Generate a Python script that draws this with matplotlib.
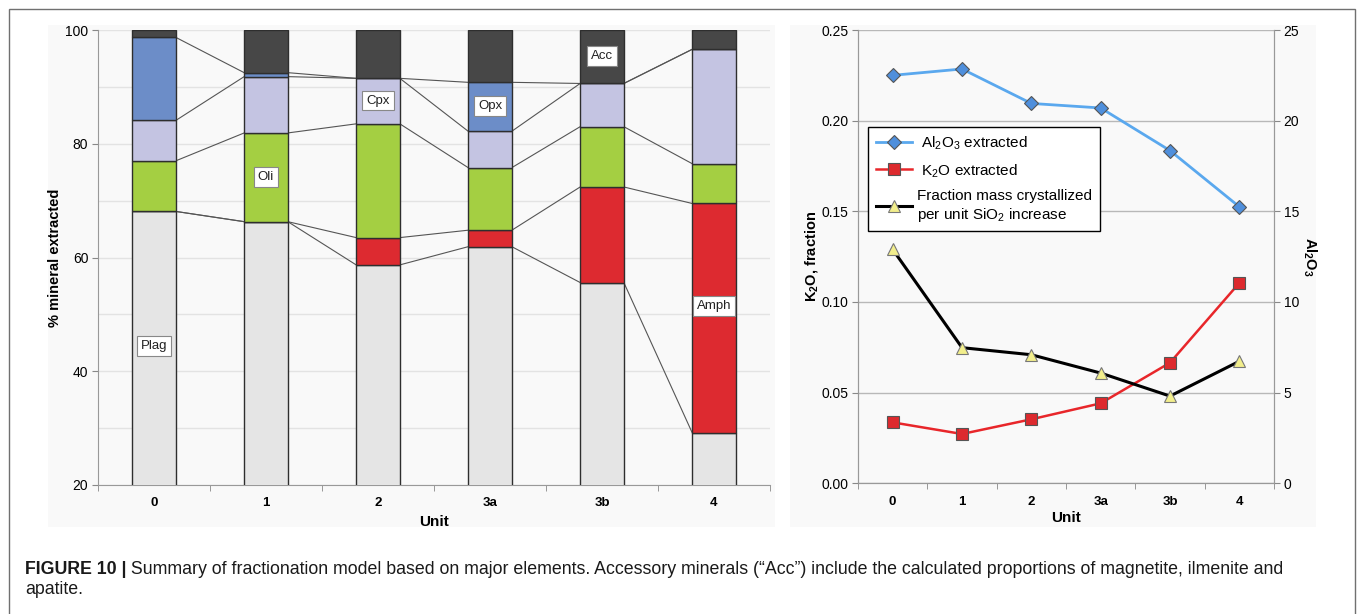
import matplotlib
matplotlib.use("Agg")
import matplotlib.pyplot as plt
from matplotlib.patches import Rectangle
import numpy as np

plt.rcParams['font.family'] = ['Liberation Sans', 'DejaVu Sans']

# ---------------- data ----------------
units = ["0", "1", "2", "3a", "3b", "4"]
minerals = ["Plag", "Amph", "Oli", "Cpx", "Opx", "Acc"]
plag = [68.1, 66.3, 58.7, 61.9, 55.6, 29.2]
amph = [0.0, 0.0, 4.8, 2.9, 16.8, 40.3]
oli = [8.9, 15.6, 20.0, 11.0, 10.6, 7.0]
cpx = [7.1, 9.9, 8.0, 6.4, 7.6, 20.1]
opx = [14.6, 0.7, 0.0, 8.6, 0.0, 0.0]
acc = [1.3, 7.5, 8.5, 9.2, 9.4, 3.4]

al2o3 = [22.5, 22.85, 20.95, 20.7, 18.35, 15.25]
k2o = [0.0336, 0.0272, 0.0353, 0.0441, 0.0665, 0.1105]
frac_cryst = [0.129, 0.0748, 0.0709, 0.0608, 0.0481, 0.0673]

# label placement (bar index, y) for mineral names
label_pos = {"Plag": (0, 44.5), "Oli": (1, 74.2), "Cpx": (2, 87.6),
             "Opx": (3, 86.7), "Acc": (4, 95.5), "Amph": (5, 51.5)}

colors = {"Plag": "#e5e5e5", "Amph": "#dd2a30", "Oli": "#a4cf42",
          "Cpx": "#c4c4e2", "Opx": "#6c8dc8", "Acc": "#474747"}

W, H = 1357, 614
fig = plt.figure(figsize=(W / 100, H / 100), dpi=100)

def px_rect(x0, y0, x1, y1):
    return [x0 / W, 1 - y1 / H, (x1 - x0) / W, (y1 - y0) / H]

# backgrounds and outer border
for (x0, y0, x1, y1) in [(48, 25, 775, 527), (790, 25, 1316, 527)]:
    r = px_rect(x0, y0, x1, y1)
    fig.patches.append(Rectangle((r[0], r[1]), r[2], r[3], transform=fig.transFigure,
                                 facecolor="#f9f9f9", edgecolor="none", zorder=-10))
fig.patches.append(Rectangle((9 / W, -0.05), (1355 - 9) / W, 1.05 - 9 / H,
                             transform=fig.transFigure, facecolor="none",
                             edgecolor="#707070", linewidth=1.0, zorder=-5))

# ---------------- left chart ----------------
ax = fig.add_axes(px_rect(98, 30, 770, 485))
ax.set_facecolor("none")
x = np.arange(len(units))
bw = 0.39
series = [plag, amph, oli, cpx, opx, acc]
bottom = np.zeros(len(units))
tops = []
for name, vals in zip(minerals, series):
    vals = np.array(vals)
    ax.bar(x, vals, bw, bottom=bottom, color=colors[name], edgecolor="#2e2e2e",
           linewidth=1.0, zorder=3)
    bottom = bottom + vals
    tops.append(bottom.copy())

# series lines connecting cumulative tops
for t in tops[:-1]:
    for i in range(len(units) - 1):
        ax.plot([x[i] + bw / 2, x[i + 1] - bw / 2], [t[i], t[i + 1]],
                color="#555555", linewidth=0.8, zorder=2)

for name, (i, yv) in label_pos.items():
    ax.text(x[i], yv, name, ha="center", va="center", fontsize=9.5, color="#222222",
            zorder=5, bbox=dict(boxstyle="square,pad=0.3", facecolor="white",
                                edgecolor="#888888", linewidth=0.8))

ax.set_xlim(-0.5, len(units) - 0.5)
ax.set_ylim(20, 100)
ax.set_yticks([20, 40, 60, 80, 100])
ax.set_yticks(np.arange(20, 101, 10), minor=True)
ax.tick_params(axis="y", which="major", length=4, color="#888888", labelsize=10,
               direction="out", pad=3)
ax.tick_params(axis="y", which="minor", length=0)
ax.grid(axis="y", which="both", color="#e3e3e3", linewidth=1.0, zorder=0)
ax.set_xticks(x)
ax.set_xticklabels(units, fontweight="bold", fontsize=9.5)
ax.set_xticks(np.arange(-0.5, len(units), 1), minor=True)
ax.tick_params(axis="x", which="major", length=0, pad=9)
ax.tick_params(axis="x", which="minor", length=4, color="#888888", direction="out")
for s in ["top", "right"]:
    ax.spines[s].set_visible(False)
for s in ["left", "bottom"]:
    ax.spines[s].set_color("#999999")
ax.set_ylabel("% mineral extracted", fontweight="bold", fontsize=10.5, labelpad=2)
ax.set_xlabel("Unit", fontweight="bold", fontsize=11, labelpad=4)

# ---------------- right chart ----------------
ax2 = fig.add_axes(px_rect(858, 30, 1274, 483.3))
ax2.set_facecolor("none")
ax3 = ax2.twinx()
ax2.set_xlim(-0.5, len(units) - 0.5)
ax2.set_ylim(0, 0.25)
ax3.set_ylim(0, 25)
ax2.set_yticks(np.arange(0, 0.2501, 0.05))
ax2.set_yticklabels([f"{v:.2f}" for v in np.arange(0, 0.2501, 0.05)])
ax3.set_yticks([0, 5, 10, 15, 20, 25])
ax2.grid(axis="y", color="#b8b8b8", linewidth=1.0, zorder=0)
ax2.set_xticks(x)
ax2.set_xticklabels(units, fontweight="bold", fontsize=9.5)
ax2.set_xticks(np.arange(-0.5, len(units), 1), minor=True)
ax2.tick_params(axis="x", which="major", length=0, pad=9)
ax2.tick_params(axis="x", which="minor", length=4, color="#888888", direction="out")
ax2.tick_params(axis="y", length=4, color="#888888", labelsize=10, pad=3)
ax3.tick_params(axis="y", length=4, color="#888888", labelsize=10, pad=3)
for a in (ax2, ax3):
    a.spines["top"].set_visible(False)
    for s in ["left", "right", "bottom"]:
        a.spines[s].set_color("#999999")

l1, = ax3.plot(x, al2o3, color="#5aa8ee", linewidth=2.0, marker="D", markersize=7,
               markerfacecolor="#4f8fdc", markeredgecolor="#555555",
               markeredgewidth=0.8, zorder=4)
l2, = ax2.plot(x, k2o, color="#e8262a", linewidth=1.8, marker="s", markersize=8,
               markerfacecolor="#dd2a2e", markeredgecolor="#555555",
               markeredgewidth=0.8, zorder=4)
l3, = ax2.plot(x, frac_cryst, color="black", linewidth=2.2, marker="^", markersize=9,
               markerfacecolor="#f2ee8c", markeredgecolor="#777777",
               markeredgewidth=0.8, zorder=4)

ax2.set_ylabel(r"K$_\mathregular{2}$O, fraction", fontweight="bold", fontsize=10.5,
               labelpad=0)
ax3.set_ylabel(r"Al$_\mathregular{2}$O$_\mathregular{3}$", fontweight="bold",
               fontsize=10.5, rotation=-90, labelpad=14)
ax2.set_xlabel("Unit", fontweight="bold", fontsize=11, labelpad=2)

leg = ax3.legend([l1, l2, l3],
                 [r" Al$_\mathregular{2}$O$_\mathregular{3}$ extracted",
                  r" K$_\mathregular{2}$O extracted",
                  "Fraction mass crystallized\nper unit SiO$_\\mathregular{2}$ increase"],
                 loc="upper left", bbox_to_anchor=(0.024, 0.786), borderaxespad=0,
                 fontsize=11, frameon=True, fancybox=False, edgecolor="black",
                 framealpha=1, handlelength=2.4, handletextpad=0.3,
                 labelspacing=0.62, borderpad=0.5)
leg.get_frame().set_linewidth(1.0)

# ---------------- caption ----------------
t1 = fig.text(25 / W, 1 - 574 / H, "FIGURE 10 |", fontweight="bold", fontsize=12.8,
              ha="left", va="baseline", color="#1a1a1a")
fig.canvas.draw()
ann = plt.annotate(" Summary of fractionation model based on major elements. Accessory "
                   "minerals (\u201cAcc\u201d) include the calculated proportions of "
                   "magnetite, ilmenite and",
                   xy=(1, 0), xycoords=t1, xytext=(0, 0), textcoords="offset points",
                   va="bottom", ha="left", fontsize=12.8, color="#1a1a1a",
                   annotation_clip=False)
fig.text(25 / W, 1 - 594 / H, "apatite.", fontsize=12.8, ha="left", va="baseline",
         color="#1a1a1a")

fig.savefig("out.png", dpi=100)
